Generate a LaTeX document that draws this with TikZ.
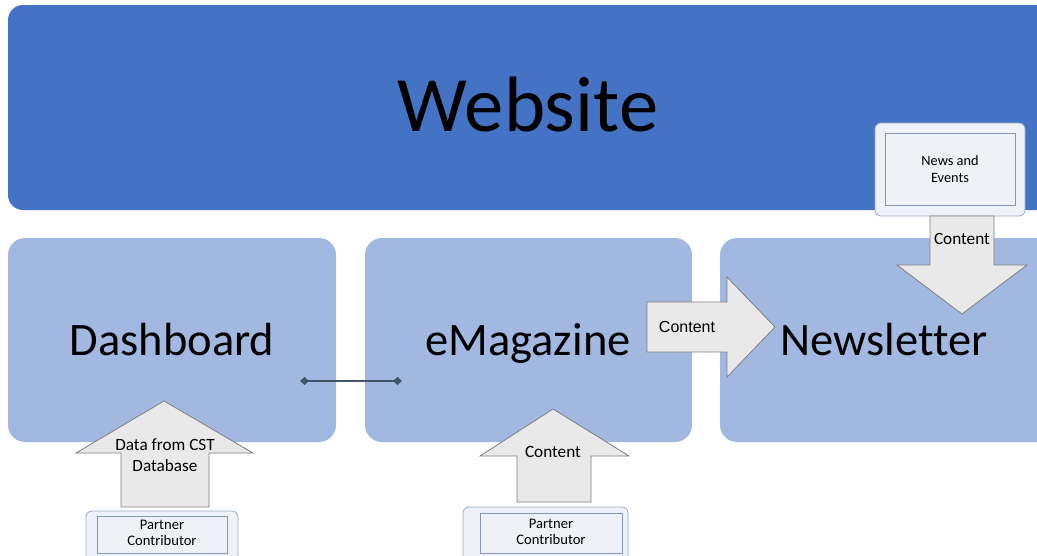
\documentclass[tikz,border=0pt]{standalone}
\usepackage{fontspec}
\setmainfont{Carlito}[Ligatures=NoCommon]
\newfontfamily\arialfont{Liberation Sans}
\usetikzlibrary{arrows.meta}
\definecolor{webblue}{HTML}{4472C4}
\definecolor{boxblue}{HTML}{A2B8E1}
\definecolor{arrowfill}{HTML}{E9E9E9}
\definecolor{arrowline}{HTML}{7F7F7F}
\definecolor{srcfill}{HTML}{EEF1F7}
\definecolor{srcline}{HTML}{9AABC9}
\definecolor{innerline}{HTML}{8497B8}
\definecolor{linkcol}{HTML}{44546A}
\tikzset{
  bigbox/.style={fill=boxblue, draw=none, rounded corners=17pt},
  bigtext/.style={font=\fontsize{46.5}{50}\selectfont, text=black, anchor=base, inner sep=0pt},
  blockarrow/.style={fill=arrowfill, draw=arrowline, line width=0.8pt, line join=miter},
  arrowtext/.style={font=\fontsize{17.2}{21}\selectfont, align=center, inner sep=0pt},
  srcouter/.style={fill=srcfill, draw=srcline, line width=0.8pt, rounded corners=6pt},
  srcinner/.style={fill=srcfill, draw=innerline, line width=0.8pt},
  srctext/.style={font=\fontsize{14.6}{16.5}\selectfont, align=center, inner sep=0pt},
}
\begin{document}
\begin{tikzpicture}[x=1pt,y=-1pt]
\clip (0,0) rectangle (1037,555);
\fill[white] (0,0) rectangle (1037,555);
% Website
\fill[webblue, rounded corners=15pt] (8,5) rectangle (1070,210);
\node[font=\fontsize{78.5}{80}\selectfont, anchor=base, inner sep=0pt] (web) at (528,131) {Website};
% three boxes
\fill[bigbox] (8,238) rectangle (336,442);
\fill[bigbox] (365,238) rectangle (692,442);
\fill[bigbox] (720,238) rectangle (1070,442);
\node[bigtext] (dash) at (172,355) {Dashboard};
\node[bigtext] (emag) at (528,355) {eMagazine};
\node[bigtext] (news) at (884,355) {Newsletter};
% connector
\coordinate (la) at (300,381);
\coordinate (lb) at (402,381);
\draw[linkcol, line width=2pt, {Diamond[length=9pt,width=8pt]}-{Diamond[length=9pt,width=8pt]}] (la) -- (lb);
% right arrow eMagazine -> Newsletter
\draw[blockarrow] (647,302) -- (727,302) -- (727,277) -- (775,327) -- (727,377) -- (727,352) -- (647,352) -- cycle;
\node[font=\arialfont\fontsize{16}{19}\selectfont, inner sep=0pt] (c1) at (687,327) {Content};
% News and Events source
\draw[srcouter] (875,123) rectangle (1025,216);
\draw[srcinner] (885,133) rectangle (1015,205);
\node[srctext, font=\fontsize{14.3}{17}\selectfont] (ne) at (950,169) {News and\\Events};
\draw[blockarrow] (930,216) -- (994,216) -- (994,265) -- (1027,265) -- (962,314) -- (897,265) -- (930,265) -- cycle;
\node[arrowtext] (c2) at (962,239) {Content};
% Dashboard up arrow
\draw[blockarrow] (121,507) -- (209,507) -- (209,453) -- (253,453) -- (164,401) -- (76,453) -- (121,453) -- cycle;
\node[arrowtext] (c3) at (165,455) {Data from CST\\Database};
\draw[srcouter] (86,511) rectangle (238,575);
\draw[srcinner] (97,516) rectangle (227,553);
\node[srctext] (p1) at (162,533) {Partner\\Contributor};
% eMagazine up arrow
\draw[blockarrow] (517,502) -- (591,502) -- (591,456) -- (629,456) -- (553,409) -- (480,456) -- (517,456) -- cycle;
\node[arrowtext] (c4) at (553,452) {Content};
\draw[srcouter] (463,507) rectangle (628,575);
\draw[srcinner] (480,513) rectangle (622,553);
\node[srctext] (p2) at (551,532) {Partner\\Contributor};
\end{tikzpicture}
\end{document}
